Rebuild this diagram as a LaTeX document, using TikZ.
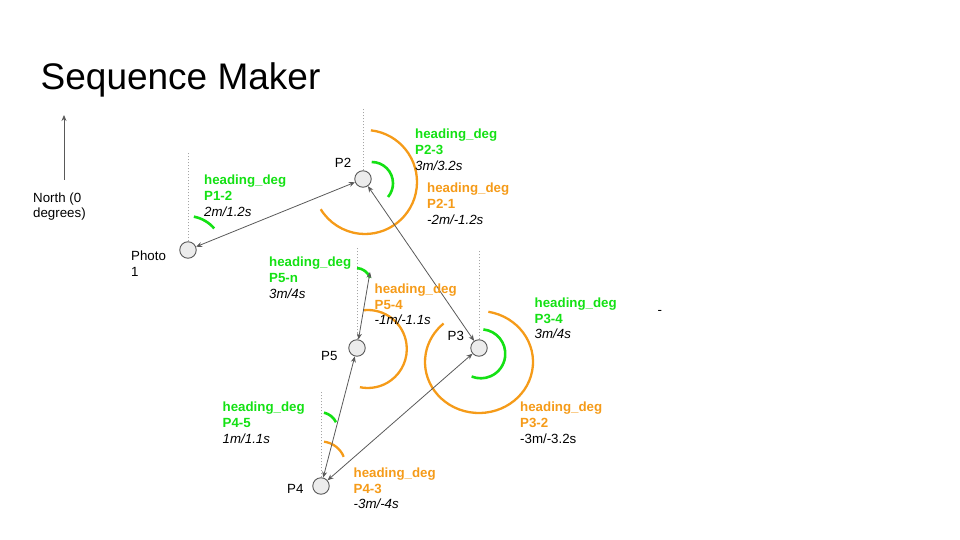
\documentclass[tikz,border=0pt]{standalone}
\usepackage{fontspec}
\setmainfont{Liberation Sans}
\usetikzlibrary{arrows.meta}
\definecolor{hgreen}{RGB}{20,225,20}
\definecolor{horange}{RGB}{245,155,25}
\definecolor{lgrey}{RGB}{89,89,89}
\definecolor{dgrey}{RGB}{165,165,165}
\definecolor{pfill}{RGB}{236,236,236}
\tikzset{
  >={Stealth[length=6pt,width=5pt]},
  photo/.style={circle, draw=lgrey, fill=pfill, line width=0.9pt,
    minimum size=16.5pt, inner sep=0pt},
  link/.style={draw=lgrey, line width=0.8pt, <->},
  vline/.style={dgrey, line width=0.8pt, dash pattern=on 1.5pt off 1.5pt},
  garc/.style={hgreen, line width=2.6pt},
  oarc/.style={horange, line width=2.3pt},
  lbl/.style={anchor=north west, inner sep=0pt, align=left,
    font=\fontsize{13.3}{15.8}\selectfont},
  gtxt/.style={lbl, text=hgreen},
  otxt/.style={lbl, text=horange},
  ptlbl/.style={anchor=base west, inner sep=0pt,
    font=\fontsize{13.3}{15.8}\selectfont},
}
\begin{document}
\begin{tikzpicture}[x=1pt, y=-1pt]
  \useasboundingbox (0,0) rectangle (960,540);
  \node[anchor=base west, inner sep=0pt, font=\fontsize{37}{42}\selectfont]
    (title) at (40.5,89.5) {Sequence Maker};

  \coordinate (nbot) at (64,180);
  \coordinate (ntop) at (64,115);
  \draw[draw=lgrey, line width=0.8pt, ->] (nbot) -- (ntop);
  \node[lbl] (nlbl) at (33,192.2) {North (0\\degrees)};

  \node[photo] (p1) at (188,250) {};
  \node[photo] (p2) at (363,179) {};
  \node[photo] (p3) at (479,348) {};
  \node[photo] (p4) at (321,486) {};
  \node[photo] (p5) at (357,348) {};
  \coordinate (n5) at (370,272);

  \draw[vline] (p1.north) -- ++(0,-90);
  \draw[vline] (p2.north) -- ++(0,-63);
  \draw[vline] (p3.north) -- ++(0,-90);
  \draw[vline] (p4.north) -- ++(0,-86);
  \draw[vline] (p5.north) -- ++(0,-92);

  \foreach \cx/\cy/\rx/\ry/\a/\b in {187/252/36/36/-79/-41,
      371.7/183.3/21.3/21.3/-90/40, 356/283/15/15/-86/-20,
      480.8/353.8/24.5/24.5/-84/112, 320/430/17.8/17.8/-77/-26}
    \draw[garc] ({\cx+\rx*cos(\a)},{\cy+\ry*sin(\a)})
      arc[start angle=\a, end angle=\b, x radius=\rx, y radius=\ry];
  \foreach \cx/\cy/\rx/\ry/\a/\b in {365/182/52/52/-83.5/148.4,
      367.8/349/39/39/-96.5/101.7, 479/362/54/51/-80/229,
      321/466/24.5/24.5/-83/-22}
    \draw[oarc] ({\cx+\rx*cos(\a)},{\cy+\ry*sin(\a)})
      arc[start angle=\a, end angle=\b, x radius=\rx, y radius=\ry];

  \draw[link] (p1) -- (p2);
  \draw[link] (p2) -- (p3);
  \draw[link] (p5) -- (p4);
  \draw[link] (p4) -- (p3);
  \draw[link] (p5) -- (n5);

  \node[lbl] (l1) at (131,250.6) {Photo\\1};
  \node[ptlbl] (l2) at (334.7,167.7) {P2};
  \node[ptlbl] (l3) at (447.5,340) {P3};
  \node[ptlbl] (l4) at (287,493.3) {P4};
  \node[ptlbl] (l5) at (321,360.7) {P5};

  \node[gtxt] (h12) at (204,174.7)
    {\textbf{heading\_deg}\\\textbf{P1-2}\\\textcolor{black}{\textit{2m/1.2s}}};
  \node[gtxt] (h23) at (415,128.7)
    {\textbf{heading\_deg}\\\textbf{P2-3}\\\textcolor{black}{\textit{3m/3.2s}}};
  \node[otxt] (h21) at (427,182.7)
    {\textbf{heading\_deg}\\\textbf{P2-1}\\\textcolor{black}{\textit{-2m/-1.2s}}};
  \node[gtxt] (h5n) at (269,256.7)
    {\textbf{heading\_deg}\\\textbf{P5-n}\\\textcolor{black}{\textit{3m/4s}}};
  \node[otxt] (h54) at (374.5,283.4)
    {\textbf{heading\_deg}\\\textbf{P5-4}\\\textcolor{black}{\textit{-1m/-1.1s}}};
  \node[gtxt] (h34) at (534.5,297.4)
    {\textbf{heading\_deg}\\\textbf{P3-4}\\\textcolor{black}{\textit{3m/4s}}};
  \node[otxt] (h32) at (520,401.7)
    {\textbf{heading\_deg}\\\textbf{P3-2}\\\textcolor{black}{-3m/-3.2s}};
  \node[gtxt] (h45) at (222.5,401.7)
    {\textbf{heading\_deg}\\\textbf{P4-5}\\\textcolor{black}{\textit{1m/1.1s}}};
  \node[otxt] (h43) at (353.5,467.4)
    {\textbf{heading\_deg}\\\textbf{P4-3}\\\textcolor{black}{\textit{-3m/-4s}}};

  \node[ptlbl] (dash) at (657.5,314) {-};
\end{tikzpicture}
\end{document}
